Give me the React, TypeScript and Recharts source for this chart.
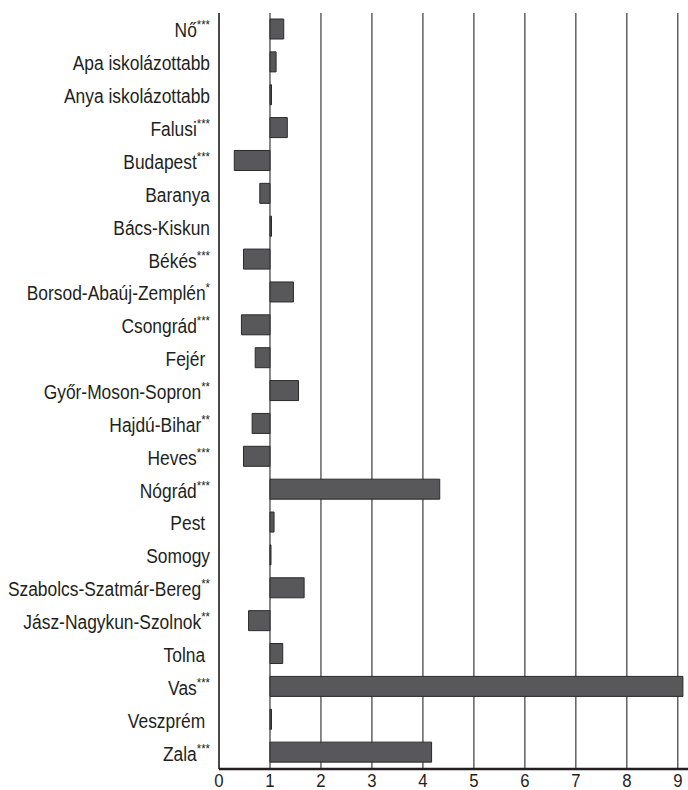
import { Bar, BarChart, CartesianGrid, XAxis, YAxis } from "recharts";

const categories = [
  "Nő",
  "Apa iskolázottabb",
  "Anya iskolázottabb",
  "Falusi",
  "Budapest",
  "Baranya",
  "Bács-Kiskun",
  "Békés",
  "Borsod-Abaúj-Zemplén",
  "Csongrád",
  "Fejér\u00a0",
  "Győr-Moson-Sopron",
  "Hajdú-Bihar",
  "Heves",
  "Nógrád",
  "Pest\u00a0",
  "Somogy",
  "Szabolcs-Szatmár-Bereg",
  "Jász-Nagykun-Szolnok",
  "Tolna\u00a0",
  "Vas",
  "Veszprém\u00a0",
  "Zala",
];

const stars = [
  "***", "", "", "***", "***", "", "", "***", "*", "***", "", "**",
  "**", "***", "***", "", "", "**", "**", "", "***", "", "***",
];

const values = [
  1.27, 1.12, 1.03, 1.34, 0.3, 0.8, 1.03, 0.48, 1.46, 0.44, 0.71, 1.56,
  0.65, 0.48, 4.33, 1.08, 1.02, 1.67, 0.58, 1.25, 9.1, 1.03, 4.17,
];

const xTicks = [0, 1, 2, 3, 4, 5, 6, 7, 8, 9];

// bars start from 1 (the reference value), not from 0
const BASE = 1;

const data = categories.map((name, i) => ({
  name,
  stars: stars[i],
  range: [Math.min(BASE, values[i]), Math.max(BASE, values[i])],
}));

const FONT = "'Liberation Sans', Arial, sans-serif";
const INK = "#231f20";

function CategoryTick(props: any) {
  const { x, y, payload, index } = props;
  const s = stars[index] ?? "";
  return (
    <g transform={`translate(${x},${y})`}>
      <text
        transform="scale(0.87,1)"
        x={0}
        y={0}
        dy={8}
        textAnchor="end"
        fontFamily={FONT}
        fontSize={20}
        fill={INK}
      >
        {payload.value}
        {s ? (
          <tspan fontSize={13} dy={-8}>
            {s}
          </tspan>
        ) : null}
      </text>
    </g>
  );
}

function NumberTick(props: any) {
  const { x, y, payload } = props;
  return (
    <g transform={`translate(${x},${y})`}>
      <text
        transform="scale(0.88,1)"
        x={0}
        y={16}
        textAnchor="middle"
        fontFamily={FONT}
        fontSize={19}
        fill={INK}
      >
        {payload.value}
      </text>
    </g>
  );
}

export default function App() {
  return (
    <div style={{ position: "absolute", left: 0, top: 0, background: "#fff" }}>
      <BarChart
        width={688}
        height={790}
        data={data}
        layout="vertical"
        margin={{ top: 13, right: 0, bottom: 0, left: 0 }}
        barSize={20}
      >
        <CartesianGrid
          horizontal={false}
          stroke="#3a3a3a"
          strokeWidth={1.2}
          verticalValues={xTicks}
        />
        <XAxis
          type="number"
          domain={[0, 9.2]}
          ticks={xTicks}
          height={21}
          tickLine={false}
          tickSize={0}
          axisLine={{ stroke: INK, strokeWidth: 2.5 }}
          tick={<NumberTick />}
          interval={0}
        />
        <YAxis
          type="category"
          dataKey="name"
          width={219}
          tickLine={false}
          tickSize={0}
          tickMargin={9}
          axisLine={{ stroke: INK, strokeWidth: 1.2 }}
          tick={<CategoryTick />}
          interval={0}
        />
        <Bar
          dataKey="range"
          fill="#58585a"
          stroke="#2a2a2a"
          strokeWidth={1}
          isAnimationActive={false}
        />
      </BarChart>
    </div>
  );
}
